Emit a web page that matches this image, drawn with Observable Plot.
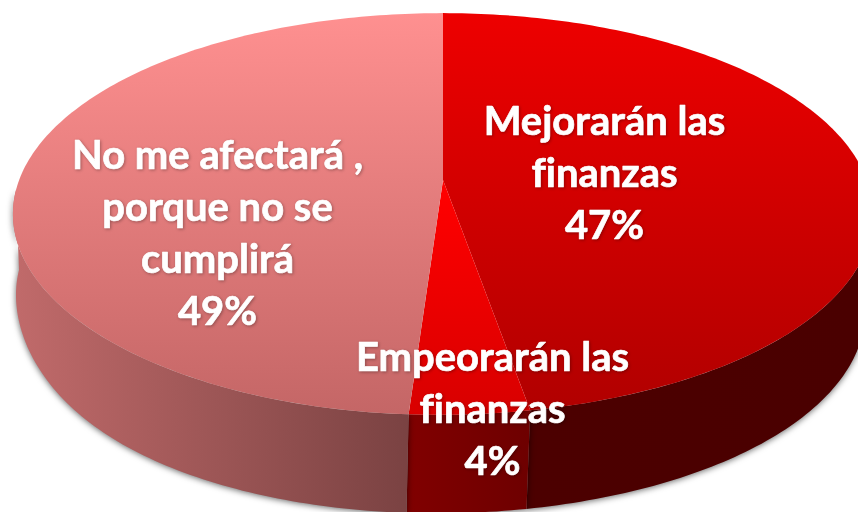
<!DOCTYPE html>
<html>
<head>
<meta charset="utf-8">
<script src="https://cdn.jsdelivr.net/npm/d3@7"></script>
<script src="https://cdn.jsdelivr.net/npm/@observablehq/plot@0.6"></script>
<style>
html,body{margin:0;padding:0;background:#fff;overflow:hidden}
svg{display:block}
.wall{filter:drop-shadow(0px 1px 3px rgba(0,0,0,.6))}
.lab{filter:drop-shadow(1px 1.5px 1.5px rgba(0,0,0,.3));font-variant-ligatures:none}
</style>
</head>
<body>
<script>
const categories = ["Mejorarán las\nfinanzas", "Empeorarán las\nfinanzas", "No me afectará ,\nporque no se\ncumplirá"];
const values = [47, 4, 49];
const topFills = ["url(#topRed)", "url(#topBright)", "url(#topPink)"];
const wallFills = ["url(#wallDark)", "url(#wallMid)", "url(#wallPink)"];
const labelX = [604, 492, 217];
const labelY = [170, 406, 230];

// perspective view of the disc: both faces are the same circle seen from above
const k = 0.1194;
const topFace = {cx: 443, cy: 190, a: 427, b: 198, droop: 0};
const bottomFace = {cx: 440.5, cy: 288, a: 421.5, b: 198.5, droop: 18};
const apex = {x: 443, y: 180};
const project = (f, t) => {
  const v = Math.sin(t), u = -Math.cos(t), w = 1 - k * u;
  const frontShift = -4 * Math.pow(Math.max(0, u), 8);
  const leftLift = v < 0 ? f.droop * Math.pow(-v, 7) : 0;
  return [f.cx + f.a * v / w + frontShift, f.cy + f.b * u / w - leftLift];
};
const arcs = d3.pie().sort(null)(values);
const samples = (a0, a1) => {
  const n = Math.max(8, Math.ceil((a1 - a0) * 60));
  return d3.range(n + 1).map(i => a0 + (a1 - a0) * i / n);
};
const topMarks = arcs.map((d, i) => Plot.area(
  samples(d.startAngle, d.endAngle).map(t => project(topFace, t)),
  {x1: p => p[0], y1: p => p[1], x2: () => apex.x, y2: () => apex.y, fill: topFills[i]}
));
const wallMarks = arcs.map((d, i) => {
  const a0 = Math.max(d.startAngle, Math.PI / 2), a1 = Math.min(d.endAngle, 3 * Math.PI / 2);
  return Plot.area(
    samples(a0, a1).map(t => [project(topFace, t), project(bottomFace, t)]),
    {x1: p => p[0][0], y1: p => p[0][1], x2: p => p[1][0], y2: p => p[1][1], fill: wallFills[i], className: "wall"}
  );
});
const labels = categories.map((c, i) => ({text: `${c}\n${values[i]}%`, x: labelX[i], y: labelY[i]}));

const chart = Plot.plot({
  width: 858, height: 512,
  margin: 0,
  x: {domain: [0, 858], range: [0, 858], axis: null},
  y: {domain: [0, 512], range: [0, 512], axis: null},
  style: {background: "#fff"},
  marks: [
    ...wallMarks,
    ...topMarks,
    Plot.text(labels, {
      x: "x", y: "y", text: "text", fill: "#fff", stroke: "#fff", strokeWidth: 0.7,
      fontFamily: "Lato", fontWeight: 700, fontSize: 40, lineHeight: 1.3,
      textAnchor: "middle", lineAnchor: "middle", className: "lab"
    })
  ]
});

const defs = d3.select(chart).insert("svg:defs", ":first-child");
function grad(id, stops, x1, y1, x2, y2) {
  const g = defs.append("linearGradient").attr("id", id).attr("gradientUnits", "userSpaceOnUse")
    .attr("x1", x1).attr("y1", y1).attr("x2", x2).attr("y2", y2);
  stops.forEach(([o, c]) => g.append("stop").attr("offset", o).attr("stop-color", c));
}
grad("topRed", [[0, "#ee0000"], [1, "#b00000"]], 0, 13, 0, 415);
grad("topBright", [[0, "#ff0000"], [1, "#d80000"]], 0, 190, 0, 415);
grad("topPink", [[0, "#ff9090"], [1, "#c46666"]], 0, 13, 0, 415);
grad("wallPink", [[0, "#c06a6a"], [1, "#7a4242"]], 18, 0, 410, 0);
grad("wallMid", [[0, "#800000"], [1, "#6e0000"]], 410, 0, 528, 0);
grad("wallDark", [[0, "#4c0000"], [1, "#4a0000"]], 528, 0, 860, 0);
document.body.appendChild(chart);
</script>
</body>
</html>
